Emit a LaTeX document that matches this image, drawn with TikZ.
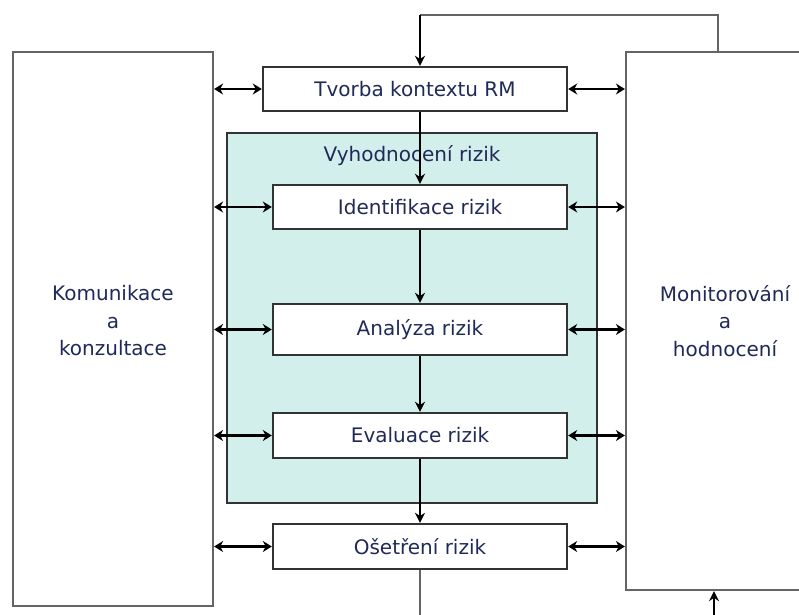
\documentclass[tikz,border=0pt]{standalone}
\usepackage{fontspec}
\setmainfont{DejaVu Sans}
\usetikzlibrary{arrows.meta,positioning}
\definecolor{tyrkys}{RGB}{210,239,236}
\definecolor{modra}{RGB}{32,42,88}
\definecolor{ramecek}{RGB}{100,100,100}

\begin{document}
\begin{tikzpicture}[x=1pt, y=-1pt,
		krok/.style={draw=black!80, line width=2.4pt, fill=white, minimum width=294pt, minimum height=44pt, inner sep=0pt, text=modra, font=\fontsize{20}{24}\selectfont},
		velky/.style={draw=ramecek, line width=2.2pt, fill=white, minimum width=200pt, inner sep=0pt},
		popis/.style={align=center, text=modra, font=\fontsize{20}{27.5}\selectfont},
		tok/.style={black, line width=2.6pt, -{Stealth[length=10pt, width=10pt]}},
		obe/.style={black, line width=2.4pt, {Stealth[length=9pt, width=11pt]}-{Stealth[length=9pt, width=11pt]}},
		zpetna/.style={ramecek, line width=2.2pt}]
		\useasboundingbox (0, 0) rectangle (799, 614);
		\clip (0, 0) rectangle (799, 614);
		\node[velky, minimum height=554pt] (kom) at (113, 329) {};
		\node[popis] (komtext) at (113, 321) {Komunikace\\a\\konzultace};
		\node[velky, minimum width=198pt, minimum height=538pt, popis] (mon) at (725, 321) {Monitorování\\a\\hodnocení};
		\node[draw=black!80, line width=2.2pt, fill=tyrkys, minimum width=370pt, minimum height=370pt] (oblast) at (412, 318) {};
		\node[popis] (nadpis) at (412, 156) {Vyhodnocení rizik};
		\node[krok, minimum width=304pt] (tvorba) at (415, 89) {Tvorba kontextu RM};
		\node[krok] (ident) at (420, 207) {Identifikace rizik};
		\node[krok, minimum height=51pt] (analyza) at (420, 329.5) {Analýza rizik};
		\node[krok, minimum height=45pt] (evaluace) at (420, 435.5) {Evaluace rizik};
		\node[krok, minimum height=45pt] (osetreni) at (420, 546.5) {Ošetření rizik};
		\coordinate (horni) at (718, 15);
		\coordinate (dole) at (420, 640);
		\coordinate (zpet) at (714, 640);
		\draw[zpetna] (mon.north -| horni) -- (horni) -- (horni -| ident.north);
		\draw[tok] (horni -| ident.north) -- (ident.north |- tvorba.north);
		\draw[tok] (ident.north |- tvorba.south) -- (ident.north);
		\draw[tok] (ident.south) -- (analyza.north);
		\draw[tok] (analyza.south) -- (evaluace.north);
		\draw[tok] (evaluace.south) -- (osetreni.north);
		\draw[zpetna] (osetreni.south) -- (dole);
		\draw[tok] (zpet) -- (mon.south -| zpet);
		\foreach \k in {tvorba, ident, analyza, evaluace, osetreni} {
			\draw[obe] (kom.east |- \k.west) -- (\k.west);
			\draw[obe] (\k.east) -- (\k.east -| mon.west);
		}
	\end{tikzpicture}
\end{document}
